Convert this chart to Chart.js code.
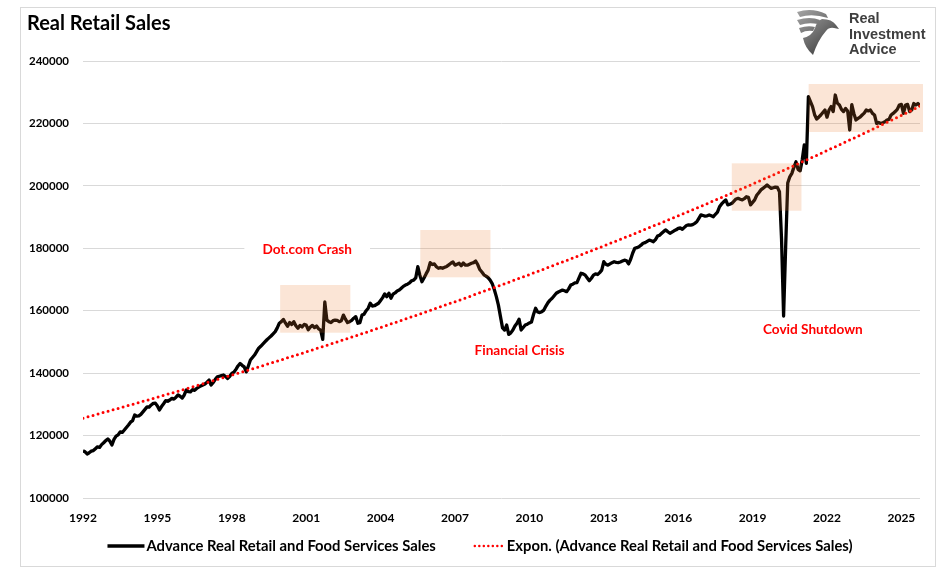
<!DOCTYPE html>
<html><head><meta charset="utf-8">
<script src="https://cdn.jsdelivr.net/npm/chart.js@4.4.1/dist/chart.umd.min.js"></script>
<style>html,body{margin:0;padding:0;background:#fff;overflow:hidden}#wrap{width:947px;height:576px;position:relative}</style>
</head><body><div id="wrap"><canvas id="c" width="947" height="576"></canvas></div>
<script>
// ---------- DATA ----------
const startYear = 1992; // first month = Jan 1992, monthly values
const seriesName = 'Advance Real Retail and Food Services Sales';
const trendName = 'Expon. (Advance Real Retail and Food Services Sales)';
const sales = [
  115100,114800,114100,114500,115000,115200,115800,116400,116200,117100,117700,118400, // 1992
  118900,118200,117000,118800,119800,120200,121200,121000,121800,122600,123400,124300, // 1993
  124800,126600,126200,126300,126800,127600,128400,129200,129100,129800,130300,130400, // 1994
  129500,128200,129300,130200,131200,131000,131400,131900,131700,132300,133000,132600, // 1995
  132000,133000,134600,134100,134000,134700,134500,135100,135500,135900,136200,136500, // 1996
  137100,137800,136200,137000,138000,138800,139000,139200,139400,138900,138300,139000, // 1997
  139900,140300,141200,142300,143100,142500,142000,140400,142300,144200,145000,145800, // 1998
  146900,148000,148600,149300,150000,150700,151300,151900,152600,153300,154500,156000, // 1999
  156500,157200,156000,155000,156200,155600,156500,155200,154400,155300,154800,155600, // 2000
  155400,153900,154800,155300,154600,155100,154200,153800,150800,162800,157000,156500, // 2001
  156200,156800,157000,156900,156500,156800,158600,157300,156200,156500,156900,157600, // 2002
  158100,156000,156200,158600,158900,160000,160800,162400,161500,161600,162000,162400, // 2003
  163300,164200,165400,164500,165600,164000,165300,165700,166300,166600,167200,167800, // 2004
  168200,168500,168900,169600,169800,170500,174100,171400,169300,170500,171800,173000, // 2005
  175400,174800,175000,174100,173600,173800,173600,173900,174200,174700,175200,175600, // 2006
  174600,174900,175200,174400,175300,174600,174600,174900,175200,175400,175900,174800, // 2007
  173200,172400,171500,171100,170600,169800,168700,166800,164500,161800,158100,154500, // 2008
  153800,155400,152400,152900,153800,155100,156000,157300,153800,154600,155400,155700, // 2009
  156100,156400,158800,160800,159600,159400,159700,160200,161500,162600,163400,164000, // 2010
  164800,165600,166000,166300,166600,166400,166100,167000,168200,168500,168900,169000, // 2011
  170500,172000,171800,171400,170500,169600,170400,171400,171800,171600,172200,173000, // 2012
  175700,174900,174600,175000,175400,175700,175500,175400,175600,175900,176200,176000, // 2013
  175000,176500,178500,180000,180200,180500,181000,181600,181800,182200,182600,182400, // 2014
  182100,182800,183900,184200,184800,185400,185900,185300,184800,185200,185600,185900, // 2015
  186400,186500,186100,186700,187300,187500,187400,187600,188000,188500,189600,190700, // 2016
  190500,190300,190400,190700,190400,190100,190900,191600,193300,194200,194900,195500, // 2017
  193900,194100,194400,195100,195800,196000,195700,195500,195900,196500,196300,193900, // 2018
  194700,195500,197000,197800,198700,199200,199700,200300,199700,199200,199400,199600, // 2019
  199500,198100,183000,158300,180500,200900,202900,204000,206000,207700,205300,204800, // 2020
  208300,213100,207200,228600,227000,225400,222800,221400,222000,222700,223500,224300, // 2021
  222000,224300,225400,223800,229100,226500,225900,224500,223800,224800,224000,217900, // 2022
  226000,223200,221100,221600,222000,222700,223300,224300,224000,224300,223200,222700, // 2023
  220000,220300,220000,220200,220500,221100,221300,222700,223200,223800,224500,225900, // 2024
  226100,223200,225900,226100,223800,224300,226400,225900,226400,225600                // 2025
];
const yearTicks = [1992,1995,1998,2001,2004,2007,2010,2013,2016,2019,2022,2025];
const yMin = 100000, yMax = 240000, yStep = 20000;
// shaded highlight regions: [fromYear, toYear, lowValue, highValue]
const shadedRanges = [
  [1999.95, 2002.78, 152950, 168230],
  [2005.60, 2008.43, 170700, 185850],
  [2018.16, 2020.97, 192040, 207220],
  [2021.26, 2025.87, 217250, 232630]
];
// annotation labels: [text, year, value]
const notes = [
  ['Dot.com Crash', 2001.04, 179500],
  ['Financial Crisis', 2009.60, 147100],
  ['Covid Shutdown', 2021.43, 153800]
];

// ---------- build points ----------
const salesPts = sales.map((v, i) => ({x: startYear + i / 12, y: v}));
// Excel-style exponential trendline: least squares on ln(y)
let n = salesPts.length, sx = 0, sy = 0, sxx = 0, sxy = 0;
salesPts.forEach(p => { const t = p.x - startYear, l = Math.log(p.y); sx += t; sy += l; sxx += t*t; sxy += t*l; });
const slope = (n*sxy - sx*sy) / (n*sxx - sx*sx);
const icpt = (sy - slope*sx) / n;
const trendPts = salesPts.map(p => ({x: p.x, y: Math.exp(icpt + slope*(p.x - startYear))}));
const xMax = salesPts[salesPts.length - 1].x;

const FONT = 'Lato, "Open Sans", sans-serif';

const overlayPlugin = {
  id: 'overlay',
  afterDatasetsDraw(chart) {
    const {ctx, scales: {x, y}} = chart;
    ctx.save();
    ctx.fillStyle = 'rgba(237,125,49,0.2)';
    shadedRanges.forEach(r => {
      const x0 = x.getPixelForValue(r[0]), x1 = x.getPixelForValue(r[1]);
      const y0 = y.getPixelForValue(r[3]), y1 = y.getPixelForValue(r[2]);
      ctx.fillRect(x0, y0, x1 - x0, y1 - y0);
    });
    ctx.restore();
  },
  afterDraw(chart) {
    const {ctx, scales: {x, y}} = chart;
    ctx.save();
    // notes
    ctx.font = 'bold 13.6px ' + FONT;
    ctx.textAlign = 'center'; ctx.textBaseline = 'middle';
    notes.forEach(nt => {
      const px = x.getPixelForValue(nt[1]), py = y.getPixelForValue(nt[2]);
      const w = ctx.measureText(nt[0]).width;
      ctx.fillStyle = '#ffffff';
      ctx.fillRect(px - w/2 - 18, py - 9, w + 36, 18);
      ctx.fillStyle = '#FF0000';
      ctx.fillText(nt[0], px, py);
    });
    // legend
    ctx.font = 'bold 14.8px ' + FONT;
    ctx.textAlign = 'left';
    const w1 = ctx.measureText(seriesName).width, w2 = ctx.measureText(trendName).width;
    const total = 37 + 2 + w1 + 38 + 30 + 3 + w2;
    let lx = 480 - total / 2; const ly = 546;
    ctx.strokeStyle = '#000'; ctx.lineWidth = 3.3; ctx.lineCap = 'butt';
    ctx.beginPath(); ctx.moveTo(lx, ly); ctx.lineTo(lx + 37, ly); ctx.stroke();
    ctx.fillStyle = '#000';
    ctx.fillText(seriesName, lx + 39, ly + 0.5);
    lx += 39 + w1 + 38;
    ctx.strokeStyle = '#FF0000'; ctx.lineWidth = 2.5; ctx.lineCap = 'round'; ctx.setLineDash([0, 4.5]);
    ctx.beginPath(); ctx.moveTo(lx + 1, ly); ctx.lineTo(lx + 30, ly); ctx.stroke();
    ctx.setLineDash([]);
    ctx.fillText(trendName, lx + 33, ly + 0.5);
    // border
    ctx.strokeStyle = '#d9d9d9'; ctx.lineWidth = 1; ctx.lineCap = 'butt';
    ctx.strokeRect(20.5, 7.5, 915, 559);
    // logo
    drawLogo(ctx);
    ctx.restore();
  }
};

function drawLogo(ctx) {
  ctx.save();
  const g = ctx.createLinearGradient(796, 8, 836, 56);
  g.addColorStop(0, '#a8a8a8'); g.addColorStop(0.5, '#707070'); g.addColorStop(1, '#2e2e2e');
  ctx.fillStyle = g;
  ctx.beginPath();
  ctx.moveTo(797, 12); ctx.quadraticCurveTo(812, 7, 826, 14); ctx.lineTo(828, 18);
  ctx.quadraticCurveTo(812, 13, 800, 17); ctx.closePath(); ctx.fill();
  ctx.beginPath();
  ctx.moveTo(797, 20); ctx.quadraticCurveTo(810, 16, 820, 20); ctx.lineTo(818, 24);
  ctx.quadraticCurveTo(808, 22, 800, 25); ctx.closePath(); ctx.fill();
  ctx.beginPath();
  ctx.moveTo(799, 28); ctx.quadraticCurveTo(808, 25, 815, 27); ctx.lineTo(813, 31);
  ctx.quadraticCurveTo(806, 30, 801, 33); ctx.closePath(); ctx.fill();
  ctx.beginPath();
  ctx.moveTo(822, 19); ctx.quadraticCurveTo(832, 19, 836, 25); ctx.lineTo(839, 29);
  ctx.lineTo(834, 28); ctx.quadraticCurveTo(829, 27, 826, 31);
  ctx.quadraticCurveTo(818, 40, 813, 55);
  ctx.quadraticCurveTo(805, 48, 803, 38);
  ctx.quadraticCurveTo(812, 36, 815, 28); ctx.quadraticCurveTo(817, 21, 822, 19);
  ctx.closePath(); ctx.fill();
  ctx.fillStyle = '#3f3f3f';
  ctx.font = 'bold 14.5px "Liberation Sans", Arial, sans-serif';
  ctx.textAlign = 'left'; ctx.textBaseline = 'alphabetic';
  ctx.fillText('Real', 849, 23);
  ctx.fillText('Investment', 849, 38.7);
  ctx.fillText('Advice', 849, 54.3);
  ctx.restore();
}

function build() {
  Chart.defaults.font.family = FONT;
  new Chart(document.getElementById('c'), {
    type: 'line',
    data: {
      datasets: [
        {label: seriesName, data: salesPts, borderColor: '#000000', borderWidth: 3.3, pointRadius: 0,
         borderJoinStyle: 'round', tension: 0, order: 2},
        {label: trendName, data: trendPts, borderColor: '#FF0000', borderWidth: 3, pointRadius: 0,
         borderDash: [0, 5.2], borderCapStyle: 'round', tension: 0, order: 1}
      ]
    },
    options: {
      responsive: false, animation: false, devicePixelRatio: 1,
      layout: {padding: {top: 12, left: 27, right: 27, bottom: 48}},
      plugins: {
        legend: {display: false},
        tooltip: {enabled: false},
        title: {display: true, text: 'Real Retail Sales', align: 'start', color: '#000',
                font: {size: 20, weight: 'bold', family: FONT}, padding: {top: 0, bottom: 25}}
      },
      scales: {
        x: {type: 'linear', min: startYear, max: xMax,
            afterBuildTicks: s => { s.ticks = yearTicks.map(v => ({value: v})); },
            afterFit: s => { s.height = 30; },
            grid: {display: false}, border: {display: false},
            ticks: {color: '#000', font: {size: 12, weight: 'bold'}, padding: 5, maxRotation: 0,
                    autoSkip: false, callback: v => String(v)}},
        y: {min: yMin, max: yMax,
            afterFit: s => { s.width = 56; },
            grid: {color: '#d9d9d9', lineWidth: 1, drawTicks: false}, border: {display: false},
            ticks: {stepSize: yStep, color: '#000', font: {size: 11.5, weight: 'bold'}, padding: 14,
                    callback: v => String(v)}}
      }
    },
    plugins: [overlayPlugin]
  });
}
const fl = document.fonts ? Promise.all([
  document.fonts.load('bold 12px Lato'), document.fonts.load('bold 14px "Liberation Sans"')
]).catch(() => {}) : Promise.resolve();
fl.then(build, build);
</script></body></html>
